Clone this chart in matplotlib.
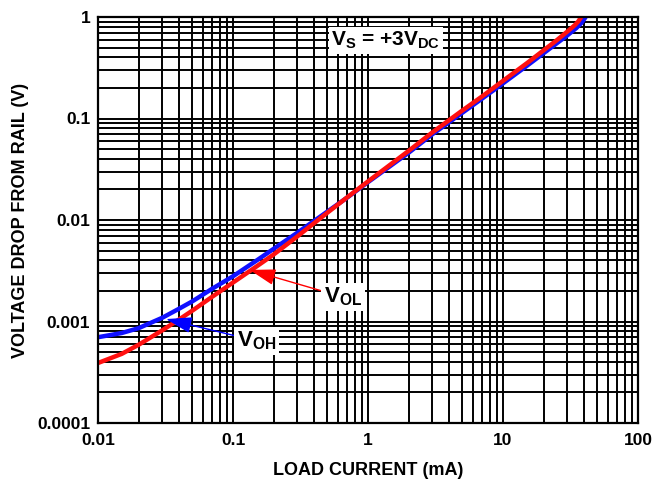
import matplotlib
matplotlib.use("Agg")
import matplotlib.pyplot as plt
from matplotlib.ticker import LogLocator, FixedLocator, FixedFormatter, NullFormatter

plt.rcParams['font.family'] = ['Liberation Sans', 'DejaVu Sans']
plt.rcParams['font.weight'] = 'bold'
plt.rcParams['mathtext.fontset'] = 'custom'
plt.rcParams['mathtext.rm'] = 'Liberation Sans:bold'
plt.rcParams['mathtext.bf'] = 'Liberation Sans:bold'
plt.rcParams['mathtext.it'] = 'Liberation Sans:bold'

# Data
vol_current = [0.01, 0.015, 0.02, 0.03, 0.04, 0.05, 0.07, 0.1, 0.15, 0.2, 0.3, 0.5, 0.7,
               1, 2, 3, 5, 7, 10, 15, 20, 25, 30, 34, 36, 38]
vol_drop = [0.00039, 0.00048, 0.00059, 0.00082, 0.00105, 0.00128, 0.00175, 0.00242, 0.0035,
            0.00457, 0.0069, 0.0118, 0.0167, 0.024, 0.048, 0.073, 0.12, 0.165, 0.235, 0.35,
            0.47, 0.59, 0.72, 0.83, 0.9, 1.0]
voh_current = [0.01, 0.015, 0.02, 0.03, 0.04, 0.05, 0.07, 0.1, 0.15, 0.2, 0.3, 0.5, 0.7,
               1, 2, 3, 5, 7, 10, 15, 20, 25, 30, 35, 38, 41]
voh_drop = [0.0007, 0.00077, 0.00086, 0.00109, 0.00134, 0.00158, 0.0021, 0.00279, 0.0040,
            0.0052, 0.0075, 0.0121, 0.0166, 0.0236, 0.046, 0.070, 0.114, 0.157, 0.222, 0.33,
            0.44, 0.55, 0.66, 0.78, 0.87, 1.0]

x_ticks = [0.01, 0.1, 1, 10, 100]
x_ticklabels = ['0.01', '0.1', '1', '10', '100']
y_ticks = [0.0001, 0.001, 0.01, 0.1, 1]
y_ticklabels = ['0.0001', '0.001', '0.01', '0.1', '1']

fig = plt.figure(figsize=(6.65, 4.8), dpi=100)
ax = fig.add_axes([98/665, 1-423/480, 540/665, 406/480])
ax.set_xscale('log')
ax.set_yscale('log')
ax.set_xlim(0.01, 100)
ax.set_ylim(0.0001, 1)

ax.xaxis.set_major_locator(FixedLocator(x_ticks))
ax.xaxis.set_major_formatter(FixedFormatter(x_ticklabels))
ax.yaxis.set_major_locator(FixedLocator(y_ticks))
ax.yaxis.set_major_formatter(FixedFormatter(y_ticklabels))
ax.xaxis.set_minor_locator(LogLocator(base=10, subs=range(2, 10), numticks=20))
ax.yaxis.set_minor_locator(LogLocator(base=10, subs=range(2, 10), numticks=20))
ax.xaxis.set_minor_formatter(NullFormatter())
ax.yaxis.set_minor_formatter(NullFormatter())

ax.grid(True, which='both', color='black', linewidth=1.4)
ax.set_axisbelow(True)
ax.tick_params(which='both', length=0)
ax.tick_params(axis='x', pad=7, labelsize=12.5)
ax.tick_params(axis='y', pad=5.5, labelsize=12.5)
for s in ax.spines.values():
    s.set_linewidth(1.6)

ax.plot(voh_current, voh_drop, color='#1010ff', linewidth=3.2, solid_capstyle='butt')
ax.plot(vol_current, vol_drop, color='#ff1010', linewidth=3.2, solid_capstyle='butt')

ax.set_xlabel('LOAD CURRENT (mA)', fontsize=13, fontweight='bold', labelpad=10)
ax.set_ylabel('VOLTAGE DROP FROM RAIL (V)', fontsize=13, fontweight='bold', labelpad=6)

bbox = dict(facecolor='white', edgecolor='none', pad=2)
ax.text(0.533, 0.943, r'$\mathregular{V_S}$ = +3$\mathregular{V_{DC}}$', transform=ax.transAxes,
        ha='center', va='center', fontsize=15, fontweight='bold', bbox=bbox)

ax.annotate(r'$\mathregular{V_{OL}}$', xy=(0.281, 0.377), xytext=(0.454, 0.31),
            xycoords='axes fraction', textcoords='axes fraction',
            ha='center', va='center', fontsize=16, fontweight='bold', bbox=bbox,
            arrowprops=dict(arrowstyle='-|>,head_length=0.8,head_width=0.25', color='red',
                            lw=1.0, mutation_scale=20, shrinkA=0, shrinkB=0))
ax.annotate(r'$\mathregular{V_{OH}}$', xy=(0.126, 0.256), xytext=(0.294, 0.202),
            xycoords='axes fraction', textcoords='axes fraction',
            ha='center', va='center', fontsize=16, fontweight='bold', bbox=bbox,
            arrowprops=dict(arrowstyle='-|>,head_length=0.8,head_width=0.25', color='blue',
                            lw=1.0, mutation_scale=20, shrinkA=0, shrinkB=0))

fig.savefig('out.png', dpi=100)
